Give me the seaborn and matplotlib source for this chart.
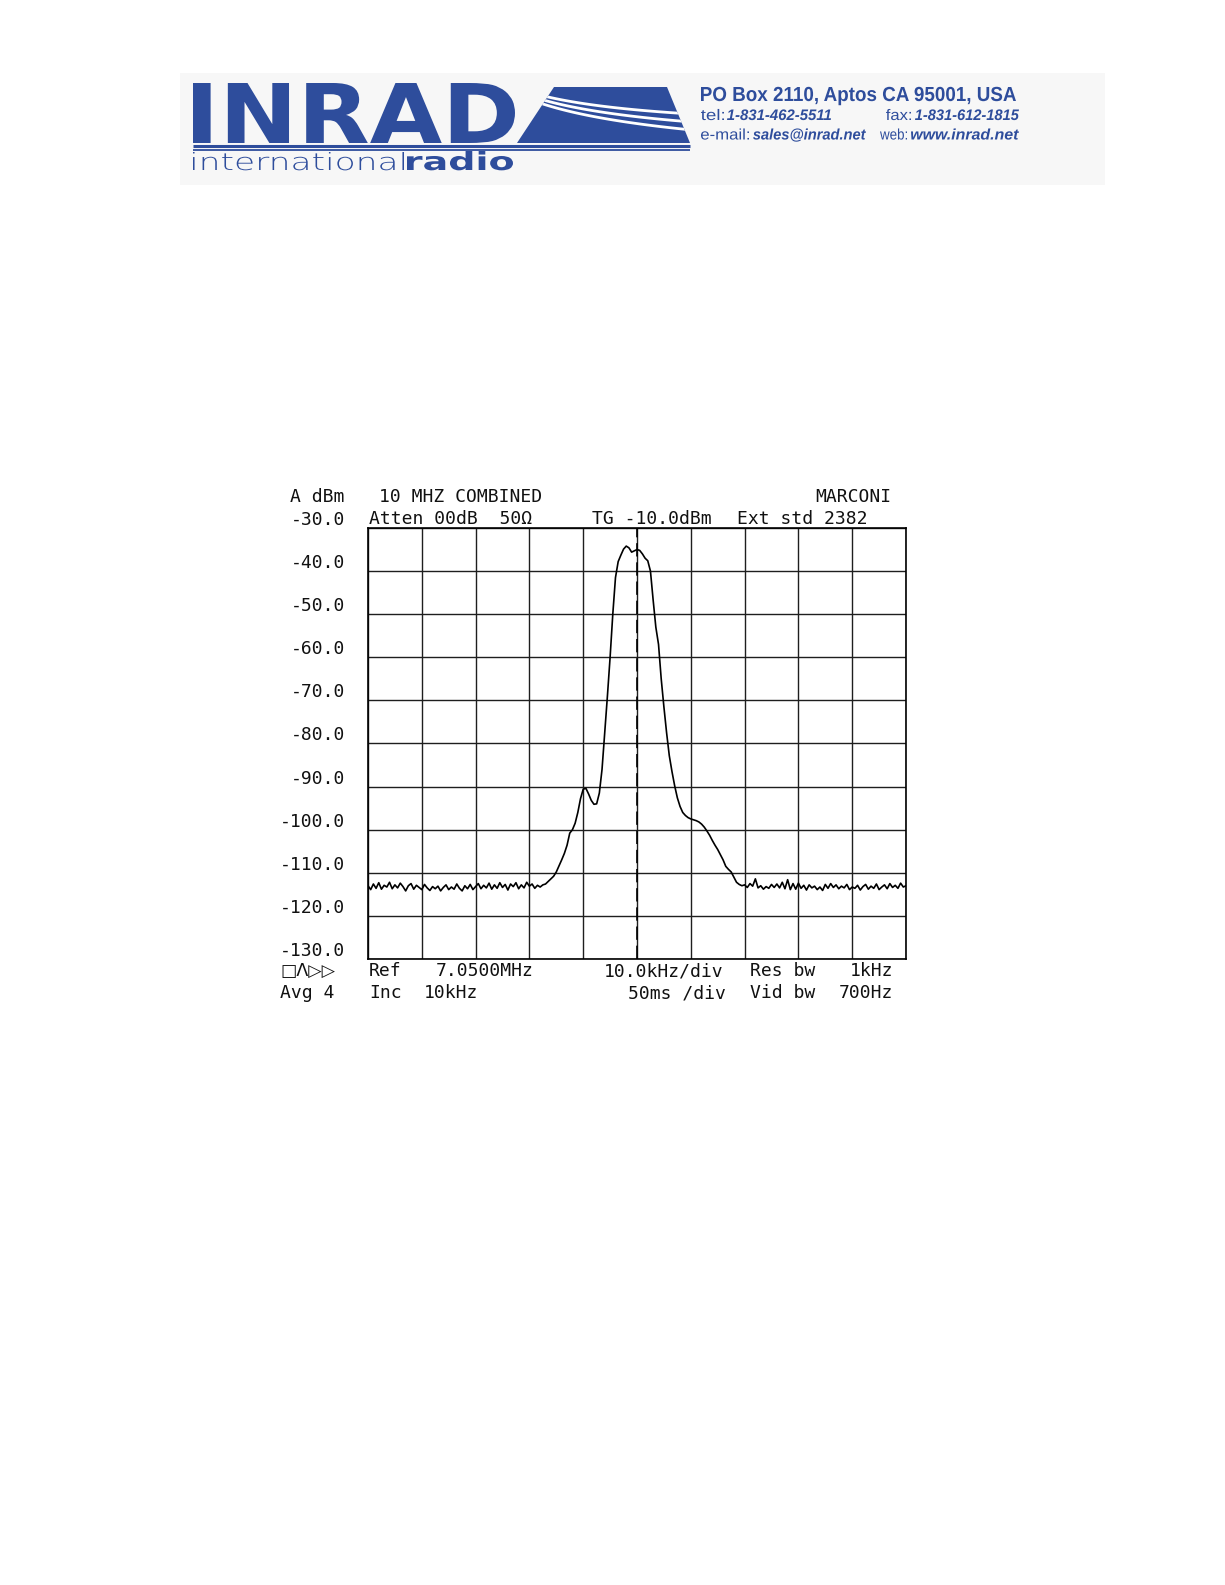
import numpy as np
import pandas as pd
import seaborn as sns
import matplotlib.pyplot as plt
from matplotlib.textpath import TextPath
from matplotlib.patches import PathPatch, Polygon, Rectangle
from matplotlib.font_manager import FontProperties
from matplotlib.transforms import Affine2D, ScaledTranslation


# sweep: -50 .. +50 kHz around 7.05 MHz, one reading every 0.5 kHz
sweep_start_khz = -50.0
sweep_step_khz = 0.5

# noise floor left of the filter (-50 .. -17.5 kHz)
noise_left_dbm = [
    -113.0, -113.9, -112.6, -113.6, -112.3, -113.8, -112.9, -113.3, -112.2, -113.7,
    -112.8, -113.5, -112.4, -113.2, -114.2, -113.0, -112.5, -113.8, -112.9, -113.4,
    -113.9, -112.7, -113.5, -114.1, -113.2, -113.7, -113.1, -114.2, -113.4, -112.8,
    -113.9, -113.3, -113.8, -112.6, -113.6, -114.2, -113.0, -113.7, -112.7, -113.9,
    -113.2, -112.5, -113.7, -112.9, -113.5, -112.4, -113.8, -112.8, -113.6, -112.3,
    -113.4, -112.7, -114.0, -112.6, -113.2, -112.3, -113.7, -112.8, -113.5, -112.2,
    -113.1, -112.6, -113.6, -112.9, -113.3, -112.8,
]

# filter response (-17 .. +19 kHz)
passband_dbm = [
    -112.6, -112.0, -111.4, -110.8, -109.8, -108.4, -107.0, -105.5, -103.6, -100.8,
    -100.0, -98.5, -96.0, -92.8, -90.6, -90.4, -91.7, -93.2, -94.1, -94.0,
    -91.5, -86.0, -77.5, -69.0, -60.0, -50.0, -41.5, -37.8, -36.3, -34.9,
    -34.2, -34.6, -35.6, -35.3, -35.0, -35.2, -36.0, -37.0, -37.6, -40.0,
    -46.7, -53.0, -57.0, -65.0, -71.5, -77.5, -82.8, -86.5, -89.8, -92.6,
    -94.6, -96.0, -96.7, -97.2, -97.5, -97.7, -97.9, -98.2, -98.7, -99.4,
    -100.3, -101.3, -102.5, -103.6, -104.6, -105.8, -107.0, -108.5, -109.2, -109.8,
    -111.0, -112.2, -112.7,
]

# noise floor right of the filter (+19.5 .. +50 kHz)
noise_right_dbm = [
    -113.0, -112.8, -113.4, -112.5, -113.1, -111.4, -113.5, -113.0, -113.8, -113.2,
    -113.6, -112.7, -113.4, -112.6, -113.5, -112.2, -113.7, -111.6, -113.9, -112.5,
    -113.8, -112.4, -113.6, -112.9, -114.0, -112.8, -113.5, -113.1, -113.9, -113.3,
    -114.1, -112.7, -113.6, -112.5, -113.4, -112.8, -113.7, -113.1, -113.5, -112.7,
    -113.9, -113.3, -113.6, -112.9, -114.0, -113.2, -112.7, -113.8, -113.1, -113.6,
    -112.6, -113.9, -113.3, -112.8, -113.7, -112.5, -113.4, -112.9, -113.6, -112.4,
    -113.3, -113.0,
]

y_ticks = list(range(-130, -29, 10))
x_ticks = list(range(-50, 51, 10))

# screen annotations of the analyser: (text, x px, alignment)
top_row_1 = [("A dBm", 290, "left"), ("10 MHZ COMBINED", 379, "left"), ("MARCONI", 891, "right")]
top_row_2 = [("Atten 00dB  50Ω", 369, "left"), ("TG -10.0dBm", 592, "left"), ("Ext std 2382", 737, "left")]
bottom_row_1 = [("Ref", 369, "left"), ("7.0500MHz", 436, "left"),
                ("10.0kHz/div", 604, "left"), ("Res bw", 750, "left"), ("1kHz", 893, "right")]
bottom_row_2 = [("Avg 4", 280, "left"), ("Inc", 369, "left"), ("10kHz", 424, "left"),
                ("50ms /div", 726, "right"), ("Vid bw", 750, "left"), ("700Hz", 893, "right")]
mode_symbols = "□Λ▷▷"

BLUE = "#2e4d9c"
MONO = ["DejaVu Sans Mono", "DejaVu Sans"]


def draw_fit(ax, s, x0, x1, base, cap_px, color, family="Liberation Sans",
             weight="normal", style="normal", use_bbox=False):
    # text as a path, stretched to fit the box it takes in the letterhead
    prop = FontProperties(family=family, weight=weight, style=style)
    tp = TextPath((0, 0), s, size=1, prop=prop)
    ext = tp.get_extents()
    if use_bbox:
        cap = ext.y1
    else:
        cap = TextPath((0, 0), "H", size=1, prop=prop).get_extents().height
    sy = cap_px / cap
    sx = (x1 - x0) / ext.width
    tr = Affine2D().translate(-ext.x0, 0).scale(sx, -sy).translate(x0, base)
    ax.add_patch(PathPatch(tr.transform_path(tp), fc=color, ec="none", lw=0))


def letterhead(ax):
    ax.add_patch(Rectangle((180, 73), 925, 112, fc="#f7f7f7", ec="none"))
    draw_fit(ax, "INRAD", 193, 515, 143, 60, BLUE, family="DejaVu Sans", weight="bold")
    wedge = Polygon([(554, 87), (667, 87), (690, 143), (517, 143)], closed=True,
                    fc=BLUE, ec="none")
    ax.add_patch(wedge)
    t = np.linspace(0, 1, 40)
    for i in range(3):
        p0 = np.array([540, 95 + 4 * i])
        p1 = np.array([590, 108 + 6 * i])
        p2 = np.array([692, 114 + 8 * i])
        pts = ((1 - t) ** 2)[:, None] * p0 + (2 * t * (1 - t))[:, None] * p1 + (t ** 2)[:, None] * p2
        ln, = ax.plot(pts[:, 0], pts[:, 1], color="white", lw=2.0, solid_capstyle="butt")
        ln.set_clip_path(wedge)
    ax.plot([193, 690], [145.5, 145.5], color=BLUE, lw=2.2, solid_capstyle="butt")
    ax.plot([193, 690], [149.5, 149.5], color=BLUE, lw=1.3, solid_capstyle="butt")
    draw_fit(ax, "international", 193, 404, 170, 18, BLUE, family="DejaVu Sans",
             weight="light", use_bbox=True)
    draw_fit(ax, "radio", 407, 513, 170, 19, BLUE, family="DejaVu Sans",
             weight="bold", use_bbox=True)

    draw_fit(ax, "PO Box 2110, Aptos CA 95001, USA", 701, 1016, 101, 14, BLUE, weight="bold")
    draw_fit(ax, "tel:", 701, 724, 120, 10.5, BLUE)
    draw_fit(ax, "1-831-462-5511", 727, 831, 120, 10.5, BLUE, weight="bold", style="italic")
    draw_fit(ax, "fax:", 886, 911, 120, 10.5, BLUE)
    draw_fit(ax, "1-831-612-1815", 915, 1019, 120, 10.5, BLUE, weight="bold", style="italic")
    draw_fit(ax, "e-mail:", 701, 749, 139.5, 10.5, BLUE)
    draw_fit(ax, "sales@inrad.net", 753, 866, 139.5, 10.5, BLUE, weight="bold", style="italic")
    draw_fit(ax, "web:", 880, 907, 139.5, 10.5, BLUE)
    draw_fit(ax, "www.inrad.net", 911, 1019, 139.5, 10.5, BLUE, weight="bold", style="italic")


def main():
    sns.set_style("white")
    plt.rcParams["font.family"] = MONO

    trace = noise_left_dbm + passband_dbm + noise_right_dbm
    df = pd.DataFrame({
        "kHz": sweep_start_khz + sweep_step_khz * np.arange(len(trace)),
        "dBm": trace,
    })

    fig = plt.figure(figsize=(12.25, 15.85), dpi=100)
    fig.patch.set_facecolor("white")

    # page overlay in pixel coordinates
    page = fig.add_axes([0, 0, 1, 1], zorder=0)
    page.set_xlim(0, 1225)
    page.set_ylim(1585, 0)
    page.axis("off")
    letterhead(page)

    for row, y in [(top_row_1, 497), (top_row_2, 518.5), (bottom_row_1, 971), (bottom_row_2, 993.5)]:
        for s, x, ha in row:
            page.text(x, y, s, ha=ha, va="center", fontsize=13, family=MONO, color="#111111")
    page.text(280, 971, mode_symbols, ha="left", va="center", fontsize=12.5,
              family=["DejaVu Sans", "DejaVu Sans Mono"], color="#111111")

    # analyser screen
    ax = fig.add_axes([368 / 1225, 1 - 959 / 1585, 538 / 1225, 431 / 1585], zorder=1)
    ax.set_facecolor("white")
    sns.lineplot(data=df, x="kHz", y="dBm", ax=ax, color="black", linewidth=1.2)
    ax.set_xlim(-50, 50)
    ax.set_ylim(-130, -30)
    ax.set_xticks(x_ticks)
    ax.set_yticks(y_ticks)
    ax.set_xticklabels([])
    ax.set_yticklabels([f"{v:.1f}" for v in y_ticks], fontsize=13, family=MONO, color="#111111")
    ax.tick_params(length=0, pad=16.5)
    lift = ScaledTranslation(0, 0.10, fig.dpi_scale_trans)
    for lab in ax.get_yticklabels():
        lab.set_transform(lab.get_transform() + lift)
    ax.grid(True, color="#1e1e1e", linewidth=1.0)
    ax.set_axisbelow(True)
    ax.axvline(0, color="black", linewidth=1.2, linestyle=(0, (8, 3.5)), zorder=1.5)
    for sp in ax.spines.values():
        sp.set_visible(True)
        sp.set_color("black")
        sp.set_linewidth(1.2)
    ax.set_xlabel("")
    ax.set_ylabel("")

    fig.savefig("out.png", dpi=100)


if __name__ == "__main__":
    main()
